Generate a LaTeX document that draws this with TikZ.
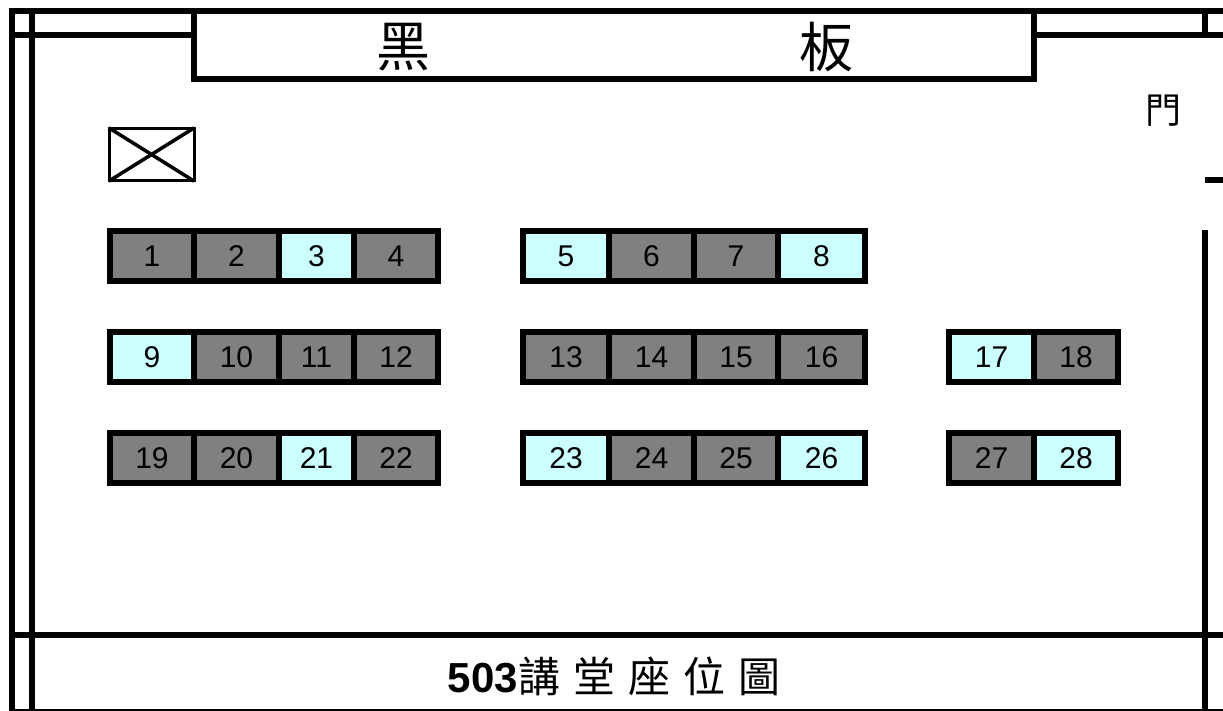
\documentclass[tikz,border=0pt]{standalone}
\usepackage{fontspec}
\setmainfont{Liberation Sans}
\newfontfamily\cjk{Noto Sans CJK TC}
\usepackage{tikz}
\definecolor{seat_gray}{HTML}{808080}
\definecolor{seat_cyan}{HTML}{CCFFFF}

\begin{document}
\begin{tikzpicture}[x=1pt, y=-1pt,
    wall/.style={line width=6pt},
    seat_node/.style={rectangle,draw,line width=6pt,inner sep=0pt,minimum height=50pt,fill=seat_gray,font=\fontsize{30}{32}\selectfont},
    free_node/.style={seat_node,fill=seat_cyan},
    board_text/.style={inner sep=0pt,font=\cjk\fontsize{54}{56}\selectfont},
    title_text/.style={inner sep=0pt,font=\fontsize{42}{44}\selectfont}]

    \useasboundingbox (0, 0) rectangle (1223, 711);

    % walls
    \draw[wall] (12, 711) -- (12, 11) -- (1223, 11);
    \draw[wall] (32, 11) -- (32, 709);
    \draw[wall] (12, 35) -- (194, 35);
    \draw[wall] (1034, 35) -- (1223, 35);
    \draw[wall] (12, 635) -- (1223, 635);
    \draw[wall] (1205, 11) -- (1205, 35);
    \draw[wall] (1205, 180) -- (1223, 180);
    \draw[wall] (1205, 230) -- (1205, 709);
    \draw[line width=2.5pt] (9, 710) -- (1223, 710);

    % blackboard
    \draw[wall, line join=miter] (194, 11) -- (194, 79) -- (1034, 79) -- (1034, 11);
    \node[board_text] (black) at (403, 47) {黑};
    \node[board_text] (board) at (826, 47) {板};

    % door
    \node[inner sep=0pt, font=\cjk\fontsize{36}{38}\selectfont] (door) at (1163, 111) {門};

    % X box
    \node[rectangle, draw, line width=3pt, minimum width=85pt, minimum height=52pt, inner sep=0pt] (box) at (151.5, 154.5) {};
    \draw[line width=3.5pt, shorten >=1.5pt, shorten <=1.5pt] (box.north west) -- (box.south east);
    \draw[line width=3.5pt, shorten >=1.5pt, shorten <=1.5pt] (box.north east) -- (box.south west);

    % row 1
    \node[seat_node, minimum width=84pt] (1) at (152, 256) {1};
    \node[seat_node, minimum width=85pt] (2) at (236.5, 256) {2};
    \node[free_node, minimum width=75pt] (3) at (316.5, 256) {3};
    \node[seat_node, minimum width=84pt] (4) at (396, 256) {4};
    \node[free_node, minimum width=86pt] (5) at (566, 256) {5};
    \node[seat_node, minimum width=85pt] (6) at (651.5, 256) {6};
    \node[seat_node, minimum width=84pt] (7) at (736, 256) {7};
    \node[free_node, minimum width=87pt] (8) at (821.5, 256) {8};

    % row 2
    \node[free_node, minimum width=84pt] (9) at (152, 357) {9};
    \node[seat_node, minimum width=85pt] (10) at (236.5, 357) {10};
    \node[seat_node, minimum width=75pt] (11) at (316.5, 357) {11};
    \node[seat_node, minimum width=84pt] (12) at (396, 357) {12};
    \node[seat_node, minimum width=86pt] (13) at (566, 357) {13};
    \node[seat_node, minimum width=85pt] (14) at (651.5, 357) {14};
    \node[seat_node, minimum width=84pt] (15) at (736, 357) {15};
    \node[seat_node, minimum width=87pt] (16) at (821.5, 357) {16};
    \node[free_node, minimum width=85pt] (17) at (991.5, 357) {17};
    \node[seat_node, minimum width=84pt] (18) at (1076, 357) {18};

    % row 3
    \node[seat_node, minimum width=84pt] (19) at (152, 458) {19};
    \node[seat_node, minimum width=85pt] (20) at (236.5, 458) {20};
    \node[free_node, minimum width=75pt] (21) at (316.5, 458) {21};
    \node[seat_node, minimum width=84pt] (22) at (396, 458) {22};
    \node[free_node, minimum width=86pt] (23) at (566, 458) {23};
    \node[seat_node, minimum width=85pt] (24) at (651.5, 458) {24};
    \node[seat_node, minimum width=84pt] (25) at (736, 458) {25};
    \node[free_node, minimum width=87pt] (26) at (821.5, 458) {26};
    \node[seat_node, minimum width=85pt] (27) at (991.5, 458) {27};
    \node[free_node, minimum width=84pt] (28) at (1076, 458) {28};

    % title
    \node[title_text] (title) at (614, 676) {\textbf{503}{\cjk\spaceskip=13pt 講 堂 座 位 圖}};
\end{tikzpicture}
\end{document}
